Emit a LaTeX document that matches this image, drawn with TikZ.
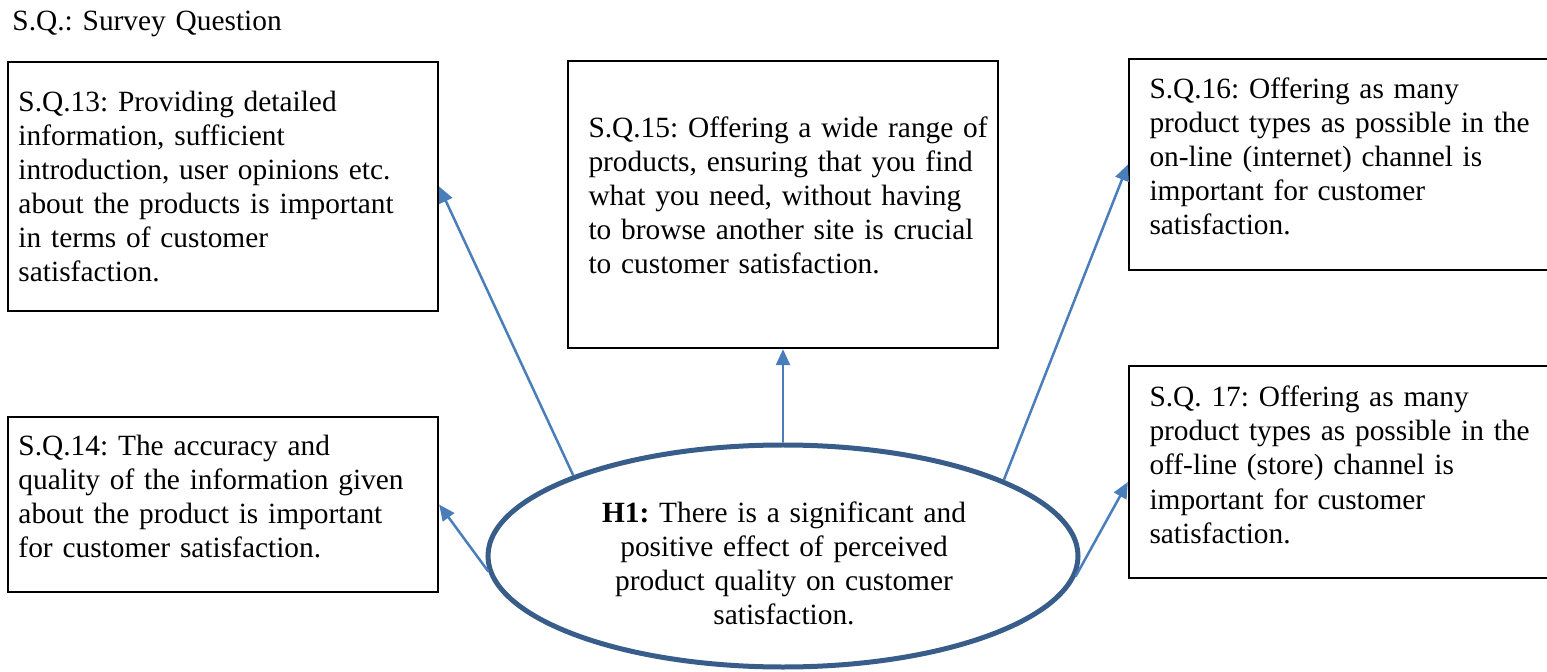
\documentclass[tikz,border=0pt]{standalone}
\usepackage{fontspec}
\setmainfont{Liberation Serif}
\usetikzlibrary{arrows.meta,shapes.geometric}
\definecolor{arrowblue}{HTML}{4A7EBB}
\definecolor{ellblue}{HTML}{385D8A}
\frenchspacing
\tikzset{
  qbox/.style={draw=black, line width=0.9pt, inner sep=0pt, minimum width=172pt},
  qtext/.style={anchor=base west, inner sep=0pt, text width=170pt, align=left,
    font=\fontsize{11.75}{13.6}\selectfont\frenchspacing},
  hyp/.style={ellipse, draw=ellblue, line width=2pt, inner sep=0pt,
    minimum width=236pt, minimum height=88.8pt},
  hyptext/.style={inner sep=0pt, text width=170pt, align=center,
    font=\fontsize{11.75}{13.6}\selectfont\frenchspacing},
  link/.style={draw=arrowblue, line width=1pt, -{Triangle[length=6.4pt,width=5.6pt]}}
}
\begin{document}
\begin{tikzpicture}[x=0.4pt,y=-0.4pt]
\useasboundingbox (0,0) rectangle (1547,672);
\clip (0,0) rectangle (1547,672);
% legend
\node[qtext] (legend) at (12,31) {S.Q.: Survey Question};
% boxes
\node[qbox, minimum height=99.6pt]  (s13) at (223,186.5) {};
\node[qbox, minimum height=114.8pt] (s15) at (783,204.5) {};
\node[qbox, minimum height=84.4pt, minimum width=172.4pt] (s16) at (1344.5,164.5) {};
\node[qbox, minimum height=70pt]    (s14) at (223,504.5) {};
\node[qbox, minimum height=84.8pt, minimum width=172.4pt] (s17) at (1344.5,472) {};
% texts
\node[qtext] (t13) at (18,112) {S.Q.13: Providing detailed\\information, sufficient\\introduction, user opinions etc.\\about the products is important\\in terms of customer\\satisfaction.};
\node[qtext] (t15) at (588,138) {S.Q.15: Offering a wide range of\\products, ensuring that you find\\what you need, without having\\to browse another site is crucial\\to customer satisfaction.};
\node[qtext] (t16) at (1149,99) {S.Q.16: Offering as many\\product types as possible in the\\on-line (internet) channel is\\important for customer\\satisfaction.};
\node[qtext] (t14) at (18,455) {S.Q.14: The accuracy and\\quality of the information given\\about the product is important\\for customer satisfaction.};
\node[qtext] (t17) at (1149,407) {S.Q. 17: Offering as many\\product types as possible in the\\off-line (store) channel is\\important for customer\\satisfaction.};
% hypothesis
\node[hyp] (h1) at (783,556) {};
\node[hyptext] (h1t) at (784,563) {\textbf{H1:} There is a significant and\\positive effect of perceived\\product quality on customer\\satisfaction.};
% connectors
\draw[link] (h1.159.4) -- (s13.east);
\draw[link] (h1.90) -- (s15.south);
\draw[link] (h1.19.4) -- (s16.west);
\draw[link] (h1.183.7) -- (s14.east);
\draw[link] (h1.356.3) -- ([yshift=-4pt]s17.west);
\end{tikzpicture}
\end{document}
